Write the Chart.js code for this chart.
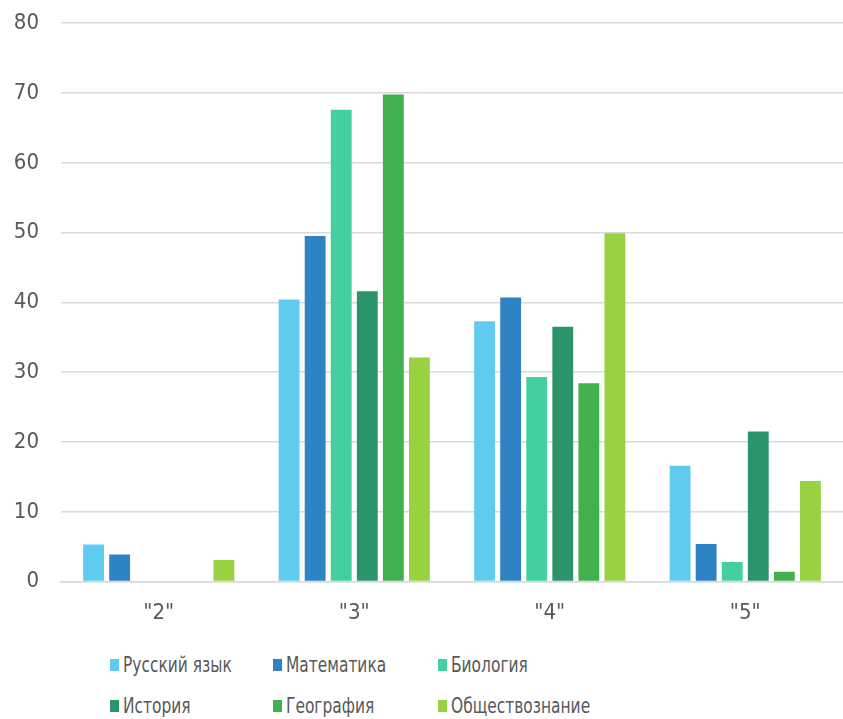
<!DOCTYPE html>
<html>
<head>
<meta charset="utf-8">
<script src="https://cdn.jsdelivr.net/npm/chart.js@4"></script>
<style>
  body { margin: 0; background: #fff; overflow: hidden; }
  #wrap { position: absolute; left: 0; top: -12px; width: 843px; height: 659px; }
  #legend {
    position: absolute; left: 0; top: 640px; width: 843px;
    font-family: "DejaVu Sans Condensed", "DejaVu Sans", sans-serif;
    font-stretch: condensed;
    font-size: 22px; color: #595959;
  }
  .item { position: absolute; display: flex; align-items: center; white-space: nowrap; }
  .box { width: 9px; height: 12px; margin-right: 4px; }
  .txt { display: inline-block; transform: scaleX(0.78); transform-origin: left center; }
</style>
</head>
<body>
<div id="wrap"><canvas id="chart"></canvas></div>
<div id="legend"></div>
<script>
const categories = ['"2"', '"3"', '"4"', '"5"'];

const russian = [5.3, 40.4, 37.3, 16.6];
const math = [3.9, 49.5, 40.7, 5.4];
const biology = [0, 67.6, 29.3, 2.8];
const history = [0, 41.6, 36.5, 21.5];
const geography = [0, 69.8, 28.4, 1.4];
const social = [3.1, 32.1, 49.9, 14.4];

const seriesNames = ["Русский язык", "Математика", "Биология", "История", "География", "Обществознание"];
const seriesValues = [russian, math, biology, history, geography, social];
const colors = ["#5ecbef", "#2e83c4", "#43cfa0", "#2c946b", "#43b050", "#98d242"];

const yTicks = [0, 10, 20, 30, 40, 50, 60, 70, 80];

const fontFamily = '"DejaVu Sans Condensed", "DejaVu Sans", sans-serif';

let datasets = seriesNames.map(function (name, i) {
  return {
    label: name,
    data: seriesValues[i],
    backgroundColor: colors[i],
    borderWidth: 0,
    barPercentage: 0.8,
    categoryPercentage: 0.8,
  };
});

let chart = new Chart(document.getElementById("chart"), {
  type: "bar",
  data: { labels: categories, datasets: datasets },
  options: {
    responsive: true,
    maintainAspectRatio: false,
    animation: false,
    layout: { padding: { top: 10, right: 0, bottom: 3, left: 0 } },
    plugins: {
      legend: { display: false },
      tooltip: { enabled: false },
    },
    scales: {
      x: {
        grid: { display: false, drawTicks: false },
        border: { color: "#d9d9d9", width: 1.5 },
        ticks: {
          color: "#595959",
          padding: 18,
          font: { family: fontFamily, size: 22 },
        },
      },
      y: {
        min: 0,
        max: 80,
        afterFit: function (scale) { scale.width = 61; },
        afterBuildTicks: function (scale) {
          scale.ticks = yTicks.map(function (v) { return { value: v }; });
        },
        grid: { color: "#d9d9d9", lineWidth: 1.5, drawTicks: false },
        border: { display: false },
        ticks: {
          color: "#595959",
          padding: 22,
          font: { family: fontFamily, size: 22 },
        },
      },
    },
  },
});

// legend laid out in fixed columns like the original
let legend = document.getElementById("legend");
let colX = [110, 273, 438];
let rowY = [12, 53];
seriesNames.forEach(function (name, i) {
  let item = document.createElement("div");
  item.className = "item";
  item.style.left = colX[i % 3] + "px";
  item.style.top = rowY[Math.floor(i / 3)] + "px";
  let box = document.createElement("span");
  box.className = "box";
  box.style.background = colors[i];
  let text = document.createElement("span");
  text.className = "txt";
  text.textContent = name;
  item.appendChild(box);
  item.appendChild(text);
  legend.appendChild(item);
});
</script>
</body>
</html>
